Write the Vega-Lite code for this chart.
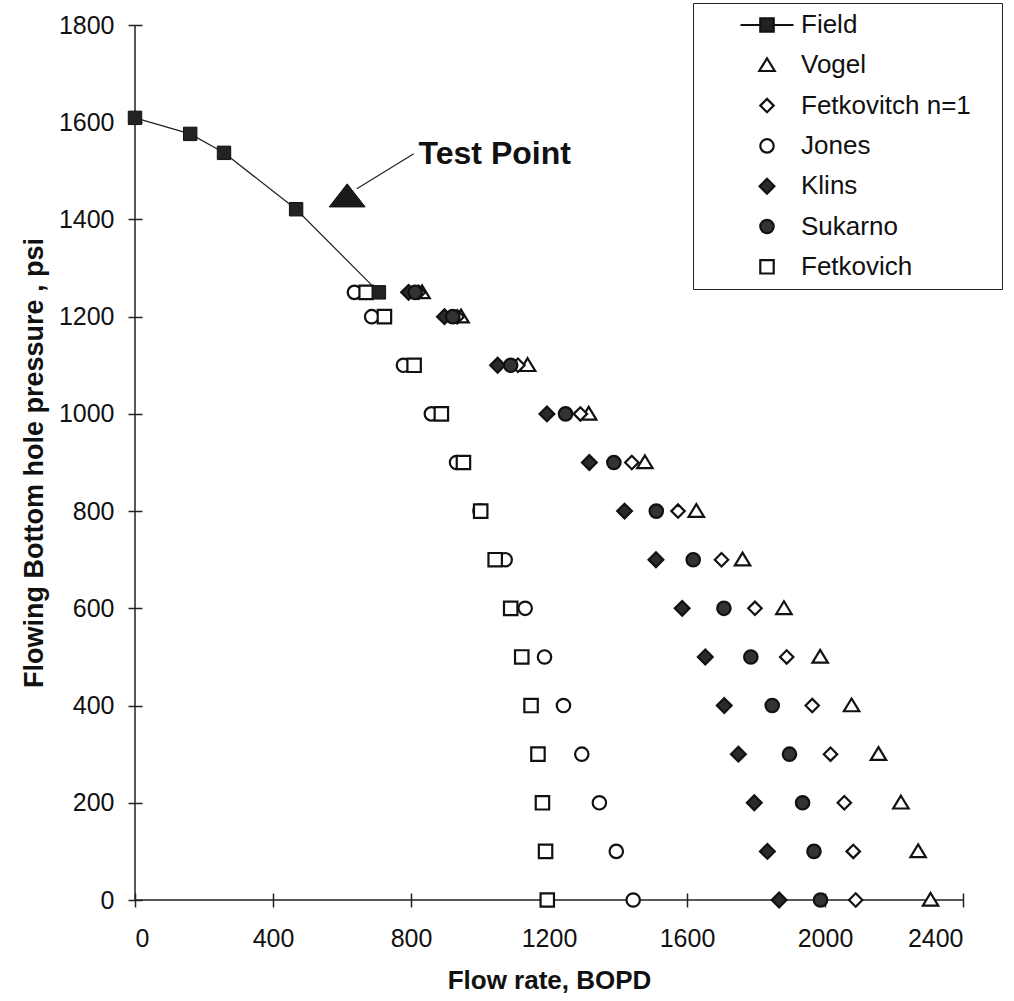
{
  "$schema": "https://vega.github.io/schema/vega-lite/v6.json",
  "width": 828,
  "height": 875,
  "autosize": {"type": "none"},
  "padding": {"left": 135, "top": 25, "right": 51, "bottom": 101},
  "background": "white",
  "config": {
    "view": {"stroke": null},
    "font": "Liberation Sans",
    "axis": {
      "grid": false,
      "domain": false,
      "tickSize": 14,
      "offset": -7,
      "tickColor": "#222",
      "tickWidth": 1.5,
      "labelFontSize": 25,
      "labelColor": "#111",
      "labelFont": "Liberation Sans",
      "titleFont": "Liberation Sans",
      "titleFontWeight": "bold",
      "titleColor": "#111",
      "format": "d"
    }
  },
  "datasets": {
    "curves": [
      {"method": "Field", "rate": 0, "pressure": 1609},
      {"method": "Field", "rate": 160, "pressure": 1576},
      {"method": "Field", "rate": 258, "pressure": 1537},
      {"method": "Field", "rate": 467, "pressure": 1421},
      {"method": "Field", "rate": 707, "pressure": 1250},

      {"method": "Vogel", "rate": 832, "pressure": 1250},
      {"method": "Vogel", "rate": 945, "pressure": 1200},
      {"method": "Vogel", "rate": 1138, "pressure": 1100},
      {"method": "Vogel", "rate": 1315, "pressure": 1000},
      {"method": "Vogel", "rate": 1478, "pressure": 900},
      {"method": "Vogel", "rate": 1627, "pressure": 800},
      {"method": "Vogel", "rate": 1761, "pressure": 700},
      {"method": "Vogel", "rate": 1881, "pressure": 600},
      {"method": "Vogel", "rate": 1986, "pressure": 500},
      {"method": "Vogel", "rate": 2077, "pressure": 400},
      {"method": "Vogel", "rate": 2155, "pressure": 300},
      {"method": "Vogel", "rate": 2220, "pressure": 200},
      {"method": "Vogel", "rate": 2270, "pressure": 100},
      {"method": "Vogel", "rate": 2306, "pressure": 0},

      {"method": "Fetkovitch n=1", "rate": 822, "pressure": 1250},
      {"method": "Fetkovitch n=1", "rate": 934, "pressure": 1200},
      {"method": "Fetkovitch n=1", "rate": 1110, "pressure": 1100},
      {"method": "Fetkovitch n=1", "rate": 1291, "pressure": 1000},
      {"method": "Fetkovitch n=1", "rate": 1440, "pressure": 900},
      {"method": "Fetkovitch n=1", "rate": 1574, "pressure": 800},
      {"method": "Fetkovitch n=1", "rate": 1700, "pressure": 700},
      {"method": "Fetkovitch n=1", "rate": 1797, "pressure": 600},
      {"method": "Fetkovitch n=1", "rate": 1889, "pressure": 500},
      {"method": "Fetkovitch n=1", "rate": 1963, "pressure": 400},
      {"method": "Fetkovitch n=1", "rate": 2016, "pressure": 300},
      {"method": "Fetkovitch n=1", "rate": 2056, "pressure": 200},
      {"method": "Fetkovitch n=1", "rate": 2082, "pressure": 100},
      {"method": "Fetkovitch n=1", "rate": 2089, "pressure": 0},

      {"method": "Jones", "rate": 636, "pressure": 1250},
      {"method": "Jones", "rate": 686, "pressure": 1200},
      {"method": "Jones", "rate": 778, "pressure": 1100},
      {"method": "Jones", "rate": 859, "pressure": 1000},
      {"method": "Jones", "rate": 932, "pressure": 900},
      {"method": "Jones", "rate": 1000, "pressure": 800},
      {"method": "Jones", "rate": 1073, "pressure": 700},
      {"method": "Jones", "rate": 1131, "pressure": 600},
      {"method": "Jones", "rate": 1187, "pressure": 500},
      {"method": "Jones", "rate": 1242, "pressure": 400},
      {"method": "Jones", "rate": 1295, "pressure": 300},
      {"method": "Jones", "rate": 1346, "pressure": 200},
      {"method": "Jones", "rate": 1395, "pressure": 100},
      {"method": "Jones", "rate": 1444, "pressure": 0},

      {"method": "Klins", "rate": 793, "pressure": 1250},
      {"method": "Klins", "rate": 897, "pressure": 1200},
      {"method": "Klins", "rate": 1051, "pressure": 1100},
      {"method": "Klins", "rate": 1194, "pressure": 1000},
      {"method": "Klins", "rate": 1317, "pressure": 900},
      {"method": "Klins", "rate": 1419, "pressure": 800},
      {"method": "Klins", "rate": 1510, "pressure": 700},
      {"method": "Klins", "rate": 1586, "pressure": 600},
      {"method": "Klins", "rate": 1653, "pressure": 500},
      {"method": "Klins", "rate": 1708, "pressure": 400},
      {"method": "Klins", "rate": 1749, "pressure": 300},
      {"method": "Klins", "rate": 1795, "pressure": 200},
      {"method": "Klins", "rate": 1833, "pressure": 100},
      {"method": "Klins", "rate": 1867, "pressure": 0},

      {"method": "Sukarno", "rate": 812, "pressure": 1250},
      {"method": "Sukarno", "rate": 921, "pressure": 1200},
      {"method": "Sukarno", "rate": 1089, "pressure": 1100},
      {"method": "Sukarno", "rate": 1248, "pressure": 1000},
      {"method": "Sukarno", "rate": 1388, "pressure": 900},
      {"method": "Sukarno", "rate": 1511, "pressure": 800},
      {"method": "Sukarno", "rate": 1618, "pressure": 700},
      {"method": "Sukarno", "rate": 1707, "pressure": 600},
      {"method": "Sukarno", "rate": 1785, "pressure": 500},
      {"method": "Sukarno", "rate": 1847, "pressure": 400},
      {"method": "Sukarno", "rate": 1897, "pressure": 300},
      {"method": "Sukarno", "rate": 1935, "pressure": 200},
      {"method": "Sukarno", "rate": 1968, "pressure": 100},
      {"method": "Sukarno", "rate": 1987, "pressure": 0},

      {"method": "Fetkovich", "rate": 670, "pressure": 1250},
      {"method": "Fetkovich", "rate": 723, "pressure": 1200},
      {"method": "Fetkovich", "rate": 809, "pressure": 1100},
      {"method": "Fetkovich", "rate": 888, "pressure": 1000},
      {"method": "Fetkovich", "rate": 952, "pressure": 900},
      {"method": "Fetkovich", "rate": 1002, "pressure": 800},
      {"method": "Fetkovich", "rate": 1044, "pressure": 700},
      {"method": "Fetkovich", "rate": 1089, "pressure": 600},
      {"method": "Fetkovich", "rate": 1121, "pressure": 500},
      {"method": "Fetkovich", "rate": 1148, "pressure": 400},
      {"method": "Fetkovich", "rate": 1168, "pressure": 300},
      {"method": "Fetkovich", "rate": 1181, "pressure": 200},
      {"method": "Fetkovich", "rate": 1190, "pressure": 100},
      {"method": "Fetkovich", "rate": 1195, "pressure": 0}
    ],
    "test": [{"label": "Test Point", "rate": 615, "pressure": 1448}]
  },
  "layer": [
    {
      "data": {"values": [{}]},
      "mark": {"type": "rule", "stroke": "#222", "strokeWidth": 1.5},
      "encoding": {
        "x": {"datum": 0, "type": "quantitative"},
        "x2": {"datum": 2400},
        "y": {"datum": 0, "type": "quantitative"}
      }
    },
    {
      "data": {"values": [{}]},
      "mark": {"type": "rule", "stroke": "#222", "strokeWidth": 1.5},
      "encoding": {
        "x": {"datum": 0, "type": "quantitative"},
        "y": {"datum": 0, "type": "quantitative"},
        "y2": {"datum": 1800}
      }
    },
    {
      "data": {"name": "curves"},
      "transform": [{"filter": "datum.method !== 'Field'"}],
      "mark": {"type": "point", "size": 180, "strokeWidth": 2.2, "opacity": 1},
      "encoding": {
        "x": {
          "field": "rate", "type": "quantitative",
          "scale": {"domain": [0, 2400], "nice": false, "zero": false},
          "axis": {"title": "Flow rate, BOPD", "titleFontSize": 26, "values": [0, 400, 800, 1200, 1600, 2000, 2400], "labelPadding": 19, "titlePadding": 16, "format": "d"}
        },
        "y": {
          "field": "pressure", "type": "quantitative",
          "scale": {"domain": [0, 1800], "nice": false, "zero": false},
          "axis": {"title": "Flowing Bottom hole pressure , psi", "titleFontSize": 27, "values": [0, 200, 400, 600, 800, 1000, 1200, 1400, 1600, 1800], "labelPadding": 14, "titlePadding": 10, "format": "d"}
        },
        "shape": {
          "field": "method", "type": "nominal",
          "scale": {
            "domain": ["Field", "Vogel", "Fetkovitch n=1", "Jones", "Klins", "Sukarno", "Fetkovich"],
            "range": ["M-3.95,0H-1M1,0H3.95M-1,-1H1V1H-1Z", "M0,-1.05L1.15,0.85L-1.15,0.85Z", "diamond", "circle", "M0,-1.1L1.1,0L0,1.1L-1.1,0Z", "circle", "square"]
          },
          "legend": {
            "orient": "none", "legendX": 558, "legendY": -22,
            "title": "\u00a0", "titleOrient": "right", "titlePadding": 22, "titleFontSize": 66,
            "padding": 9, "symbolOffset": 52, "labelOffset": 21, "rowPadding": 14.3,
            "symbolSize": 180, "labelFontSize": 26, "labelColor": "#111", "labelLimit": 400,
            "strokeColor": "#222", "symbolStrokeWidth": 2.2, "symbolOpacity": 1
          }
        },
        "fill": {
          "field": "method", "type": "nominal",
          "scale": {
            "domain": ["Field", "Vogel", "Fetkovitch n=1", "Jones", "Klins", "Sukarno", "Fetkovich"],
            "range": ["#222222", "#ffffff", "#ffffff", "#ffffff", "#2a2a2a", "#333333", "#ffffff"]
          },
          "legend": {
            "orient": "none", "legendX": 558, "legendY": -22,
            "title": "\u00a0", "titleOrient": "right", "titlePadding": 22, "titleFontSize": 66,
            "padding": 9, "symbolOffset": 52, "labelOffset": 21, "rowPadding": 14.3,
            "symbolSize": 180, "labelFontSize": 26, "labelColor": "#111", "labelLimit": 400,
            "strokeColor": "#222", "symbolStrokeWidth": 2.2, "symbolOpacity": 1
          }
        },
        "stroke": {
          "field": "method", "type": "nominal",
          "scale": {
            "domain": ["Field", "Vogel", "Fetkovitch n=1", "Jones", "Klins", "Sukarno", "Fetkovich"],
            "range": ["#111111", "#111111", "#111111", "#111111", "#111111", "#111111", "#111111"]
          },
          "legend": {
            "orient": "none", "legendX": 558, "legendY": -22,
            "title": "\u00a0", "titleOrient": "right", "titlePadding": 22, "titleFontSize": 66,
            "padding": 9, "symbolOffset": 52, "labelOffset": 21, "rowPadding": 14.3,
            "symbolSize": 180, "labelFontSize": 26, "labelColor": "#111", "labelLimit": 400,
            "strokeColor": "#222", "symbolStrokeWidth": 2.2, "symbolOpacity": 1
          }
        }
      }
    },
    {
      "data": {"name": "curves"},
      "transform": [{"filter": "datum.method === 'Field'"}],
      "mark": {"type": "line", "stroke": "#222", "strokeWidth": 1.2},
      "encoding": {
        "x": {"field": "rate", "type": "quantitative"},
        "y": {"field": "pressure", "type": "quantitative"}
      }
    },
    {
      "data": {"name": "curves"},
      "transform": [{"filter": "datum.method === 'Field'"}],
      "mark": {"type": "point", "shape": "square", "size": 180, "fill": "#222", "stroke": "#111", "strokeWidth": 1, "opacity": 1},
      "encoding": {
        "x": {"field": "rate", "type": "quantitative"},
        "y": {"field": "pressure", "type": "quantitative"}
      }
    },
    {
      "data": {"name": "test"},
      "mark": {"type": "point", "shape": "M0,-0.68L1,0.6L-1,0.6Z", "size": 1296, "fill": "#1a1a1a", "stroke": "#111", "strokeWidth": 1, "opacity": 1},
      "encoding": {
        "x": {"field": "rate", "type": "quantitative"},
        "y": {"field": "pressure", "type": "quantitative"}
      }
    },
    {
      "data": {"values": [{}]},
      "mark": {"type": "rule", "stroke": "#222", "strokeWidth": 1.2},
      "encoding": {
        "x": {"datum": 643, "type": "quantitative"},
        "y": {"datum": 1463, "type": "quantitative"},
        "x2": {"datum": 808},
        "y2": {"datum": 1535}
      }
    },
    {
      "data": {"name": "test"},
      "mark": {"type": "text", "align": "left", "baseline": "alphabetic", "fontSize": 32, "fontWeight": "bold", "color": "#111"},
      "encoding": {
        "x": {"datum": 822, "type": "quantitative"},
        "y": {"datum": 1514, "type": "quantitative"},
        "text": {"field": "label"}
      }
    }
  ]
}
